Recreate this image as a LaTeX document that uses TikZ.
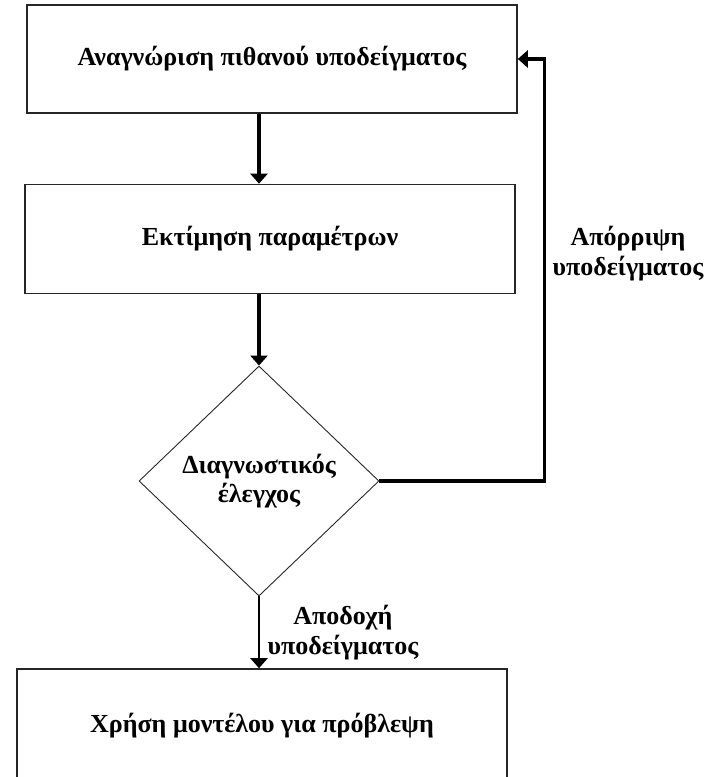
\documentclass[tikz,border=0pt]{standalone}
\usepackage{fontspec}
\setmainfont{Liberation Serif}
\usepackage{tikz}
\usetikzlibrary{positioning,shapes.geometric,arrows.meta}
\tikzstyle{process} = [rectangle, minimum width=490pt, minimum height=108pt, text centered, draw=black!85, line width=1.6pt, font=\bfseries\fontsize{26}{30}\selectfont]
\tikzstyle{decision} = [diamond, aspect=1.04, minimum width=240pt, minimum height=230pt, align=center, draw=black!85, line width=0.9pt, font=\bfseries\fontsize{26}{29}\selectfont]
\tikzstyle{arrow} = [line width=3.5pt, -{Triangle[width=17pt,length=10pt]}]
\tikzstyle{tag} = [align=center, font=\bfseries\fontsize{26}{30}\selectfont]

\begin{document}
\begin{tikzpicture}[node distance=242pt, x=1pt, y=1pt]
        \useasboundingbox (0,0) rectangle (722,-777);
        \node (ident) [process] at (272,-59) {Αναγνώριση πιθανού υποδείγματος};
        \node (estim) [process, below of=ident, yshift=62pt, xshift=-2pt, minimum height=109pt] {Εκτίμηση παραμέτρων};
        \node (check) [decision, below of=estim, xshift=-11pt] {Διαγνωστικός\\έλεγχος};
        \node (use) [process, below of=check, xshift=3pt, yshift=-3pt, minimum height=114pt] {Χρήση μοντέλου για πρόβλεψη};
        \node (reject) [tag] at (628,-254) {Απόρριψη\\υποδείγματος};

        \draw [arrow] (ident.south -| check.north) -- (estim.north -| check.north);
        \draw [arrow] (estim.south -| check.north) -- (check.north);
        \draw [arrow] (check.east) -- ++(165,0) |- (ident.east);
        \draw [arrow, line width=2.4pt] (check.south) -- node (accept) [tag, right, xshift=4pt] {Αποδοχή\\υποδείγματος} (use.north -| check.south);
    \end{tikzpicture}
\end{document}
